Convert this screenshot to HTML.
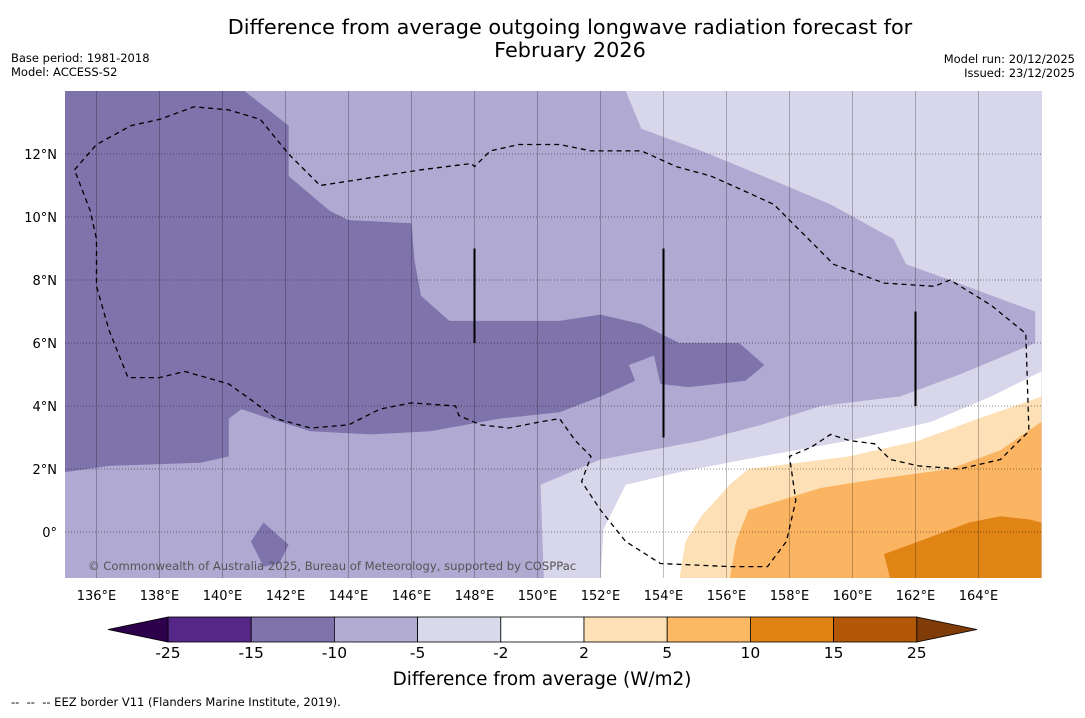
<!DOCTYPE html>
<html><head><meta charset="utf-8"><style>
body{margin:0;background:#fff;font-family:"Liberation Sans","DejaVu Sans",sans-serif;}
svg text{font-family:"DejaVu Sans","Liberation Sans",sans-serif;}
</style></head><body>
<svg id="c" width="1085" height="713" viewBox="0 0 1085 713" xmlns="http://www.w3.org/2000/svg">
<text x="570" y="34" font-size="20.8" text-anchor="middle">Difference from average outgoing longwave radiation forecast for</text>
<text x="570" y="57" font-size="20.8" text-anchor="middle">February 2026</text>
<text x="11" y="62" font-size="11.5">Base period: 1981-2018</text>
<text x="11" y="76" font-size="11.5">Model: ACCESS-S2</text>
<text x="1075" y="63" font-size="11.5" text-anchor="end">Model run: 20/12/2025</text>
<text x="1075" y="77" font-size="11.5" text-anchor="end">Issued: 23/12/2025</text>
<defs><clipPath id="mc"><rect x="65" y="91" width="977" height="487"/></clipPath></defs>
<g id="map" clip-path="url(#mc)"></g>
<g id="axes"></g>
<g id="cbar"></g>
<text x="542" y="685" font-size="18.4" text-anchor="middle">Difference from average (W/m2)</text>
<text x="11" y="706" font-size="11.5">--&#160;&#160;--&#160;&#160;-- EEZ border V11 (Flanders Marine Institute, 2019).</text>
</svg>
<script>
const lonTicks=[136,138,140,142,144,146,148,150,152,154,156,158,160,162,164];
const latTicks=[0,2,4,6,8,10,12];
const levels=[-25,-15,-10,-5,-2,2,5,10,15,25];
const levelColors=["#542788","#8073ac","#b2abd2","#d8daeb","#ffffff","#fee0b6","#fdb863","#e08214","#b35806"];
const lowColor="#2d004b", highColor="#7f3b08";
const bgColor="#d8d6ea";
const midRegion=[[135,14],[152.8,14],[153.3,12.8],[155.2,12.1],[157.4,11.2],[159.3,10.4],[161.3,9.3],[161.7,8.5],[163.1,8.0],[164.7,7.4],[165.8,7.0],[165.8,6.0],[163.4,5.0],[161.5,4.3],[159.0,4.0],[157.1,3.4],[155.2,2.9],[152.0,2.3],[150.1,1.5],[150.2,-1.5],[135,-1.5]];
const whiteRegion=[[152.0,-1.5],[152.1,0.1],[152.8,1.5],[154.5,1.9],[157.1,2.4],[159.9,2.9],[162.5,3.5],[164.4,4.3],[166,5.1],[166,-1.5]];
const lightOrangeRegion=[[154.5,-1.5],[154.7,-0.3],[155.2,0.5],[156.1,1.5],[156.7,2.0],[159.9,2.4],[162.1,2.9],[164.0,3.6],[166,4.3],[166,-1.5]];
const orangeRegion=[[156.1,-1.5],[156.3,-0.3],[156.7,0.7],[157.7,1.0],[159.0,1.4],[160.9,1.7],[163.1,2.0],[164.7,2.6],[166,3.5],[166,-1.5]];
const darkOrangeRegion=[[161.2,-1.5],[161.0,-0.7],[162.1,-0.3],[163.7,0.3],[164.7,0.5],[165.6,0.4],[166,0.3],[166,-1.5]];
const darkRegion=[[135,14],[140.7,14],[142.1,12.9],[142.1,11.3],[143.4,10.2],[144.0,9.9],[146.0,9.8],[146.1,8.6],[146.3,7.5],[147.2,6.7],[148.8,6.7],[150.7,6.7],[152.0,6.9],[153.3,6.6],[154.5,6.0],[156.4,6.0],[157.2,5.3],[156.6,4.8],[154.8,4.6],[153.9,4.7],[153.7,5.6],[152.9,5.3],[153.1,4.8],[152.0,4.3],[150.7,3.8],[148.8,3.6],[146.6,3.2],[144.7,3.1],[142.8,3.2],[141.5,3.6],[140.6,3.9],[140.2,3.6],[140.2,2.4],[139.3,2.2],[136.4,2.1],[135,1.9]];
const darkBlob=[[140.9,-0.3],[141.3,0.3],[142.1,-0.4],[141.8,-1.0],[141.3,-1.1]];
const eezLine=[[135.3,11.5],[136,12.3],[137.1,12.9],[138,13.1],[139.1,13.5],[140.2,13.4],[141.2,13.1],[142.1,12.0],[143.1,11.0],[144.4,11.2],[146.3,11.5],[147.9,11.7],[148,11.6],[148.5,12.1],[149.4,12.3],[150.7,12.3],[151.7,12.1],[153.3,12.1],[154.4,11.6],[155.5,11.3],[156.4,10.9],[157.5,10.4],[158.3,9.6],[159.4,8.5],[161.0,7.9],[162.6,7.8],[163.1,8.0],[164.4,7.2],[165.5,6.3],[165.6,3.2],[164.7,2.3],[163.4,2.0],[162.1,2.1],[161.2,2.3],[160.7,2.8],[159.9,2.9],[159.3,3.1],[158.7,2.7],[158.0,2.4],[158.2,1.0],[157.9,-0.3],[157.3,-1.1],[156.1,-1.1],[153.9,-1.0],[152.8,-0.3],[152.0,0.7],[151.4,1.6],[151.7,2.4],[151.2,2.9],[150.7,3.6],[150.1,3.5],[149.1,3.3],[148.2,3.4],[147.5,3.7],[147.4,4.0],[146.0,4.1],[145,3.9],[144.0,3.4],[142.8,3.3],[141.7,3.6],[140.9,4.2],[140.2,4.7],[138.8,5.1],[138,4.9],[137,4.9],[136.4,6.4],[136,7.8],[136,9.3],[135.8,10.2],[135.3,11.5]];
const bars=[[148,9.0,6.0],[154,9.0,3.0],[162,7.0,4.0]];

const NS="http://www.w3.org/2000/svg";
const X=lon=>65+(lon-135)*31.5;
const Y=lat=>91+(14-lat)*31.5;
function mk(tag,attrs,parent){const e=document.createElementNS(NS,tag);for(const k in attrs)e.setAttribute(k,attrs[k]);parent.appendChild(e);return e;}
const map=document.getElementById('map'),axes=document.getElementById('axes'),cb=document.getElementById('cbar');
const pts=a=>a.map(p=>X(p[0]).toFixed(1)+','+Y(p[1]).toFixed(1)).join(' ');
let r=mk('rect',{x:65,y:91,width:977,height:487,fill:bgColor},map);


const regs=[[midRegion,"#b0a9d1","mid-purple-region"],[whiteRegion,"#ffffff","white-region"],[lightOrangeRegion,"#fde0b5","light-orange-region"],[orangeRegion,"#fbb562","orange-region"],[darkOrangeRegion,"#e08416","dark-orange-region"],[darkRegion,"#7f73ac","dark-purple-region"],[darkBlob,"#7f73ac","dark-purple-blob"]];
regs.forEach(([d,c,n])=>{const p=mk('polygon',{points:pts(d),fill:c},map);

});
lonTicks.forEach(l=>{const g=mk('line',{x1:X(l),x2:X(l),y1:91,y2:578,stroke:'#000','stroke-opacity':0.25,'stroke-width':1},map);


const t=mk('text',{x:X(l),y:600,'font-size':13,'text-anchor':'middle'},axes);t.textContent=l+'°E';

});
latTicks.forEach(l=>{const g=mk('line',{x1:65,x2:1042,y1:Y(l),y2:Y(l),stroke:'#000','stroke-opacity':0.45,'stroke-width':1,'stroke-dasharray':'1,2'},map);


const t=mk('text',{x:57,y:Y(l)+5,'font-size':13,'text-anchor':'end'},axes);t.textContent=l===0?'0°':l+'°N';

});
bars.forEach(b=>{const l=mk('line',{x1:X(b[0]),x2:X(b[0]),y1:Y(b[1]),y2:Y(b[2]),stroke:'#000','stroke-width':2},map);

});
const e=mk('polyline',{points:pts(eezLine),fill:'none',stroke:'#000','stroke-width':1.3,'stroke-dasharray':'5,4'},map);


const cp=mk('text',{x:88,y:570,'font-size':11.6,fill:'#555'},map);cp.textContent='© Commonwealth of Australia 2025, Bureau of Meteorology, supported by COSPPac';


const cx0=168,cw=83.2,cy=617,ch=25;
levelColors.forEach((c,i)=>{const rr=mk('rect',{x:cx0+i*cw,y:cy,width:cw,height:ch,fill:c,stroke:'#000','stroke-width':0.8},cb);

});
const endX=cx0+levelColors.length*cw;
let t1=mk('polygon',{points:`${cx0},${cy} 108,${cy+ch/2} ${cx0},${cy+ch}`,fill:lowColor,stroke:'#000','stroke-width':0.8},cb);


let t2=mk('polygon',{points:`${endX},${cy} 977,${cy+ch/2} ${endX},${cy+ch}`,fill:highColor,stroke:'#000','stroke-width':0.8},cb);


levels.forEach((v,i)=>{const t=mk('text',{x:cx0+i*cw,y:658,'font-size':15.5,'text-anchor':'middle'},cb);t.textContent=v;

});
</script>
</body></html>
